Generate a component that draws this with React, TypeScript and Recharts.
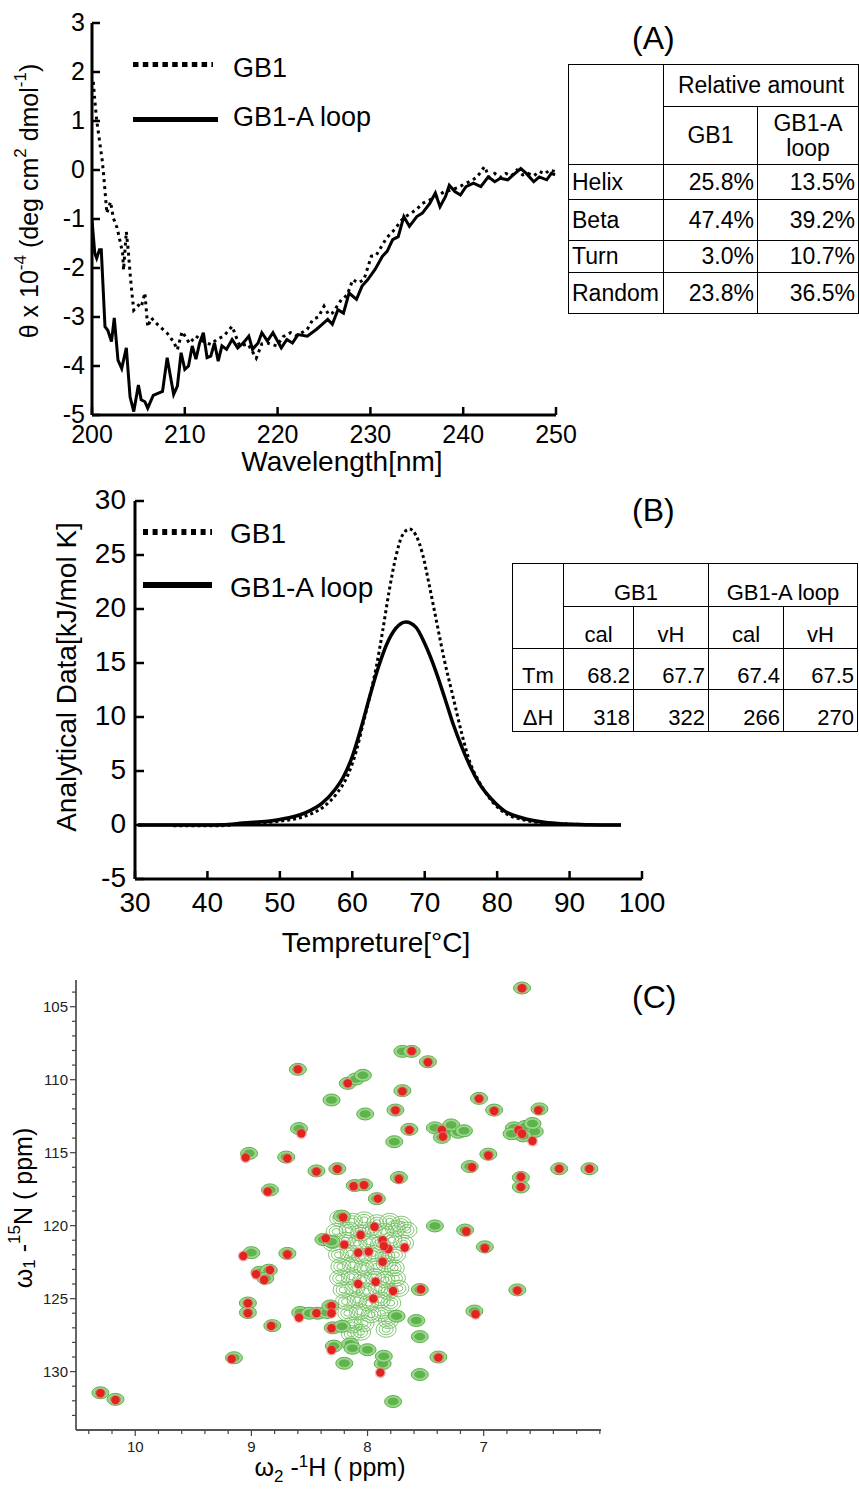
import React from 'react';
import { LineChart, Line, XAxis, YAxis, Legend, ScatterChart, Scatter, ReferenceLine, Label } from 'recharts';

const FONT = '"Liberation Sans", Arial, Helvetica, sans-serif';

// ---------- (A) CD spectra ----------
const cdGb1Nm = [200.14, 200.3, 200.5, 200.8, 201.1, 201.3, 201.6, 202.0, 202.3, 202.7, 203.0, 203.3, 203.4, 203.7, 203.9, 204.1, 204.3, 204.5, 205.0, 205.3, 205.7, 206.0, 206.4, 207.1, 208.1, 208.8, 209.2, 209.7, 210.1, 210.5, 211.2, 212.0, 212.8, 213.5, 214.2, 215.1, 215.9, 216.8, 217.7, 218.3, 218.9, 219.9, 220.6, 221.4, 222.0, 222.6, 223.2, 223.8, 224.4, 225.0, 225.5, 225.9, 226.9, 227.5, 228.1, 228.7, 229.3, 230.1, 230.6, 231.1, 231.7, 232.2, 232.7, 233.2, 233.8, 234.4, 235.0, 235.6, 236.3, 237.1, 237.9, 238.7, 239.5, 240.3, 240.9, 241.5, 242.3, 242.8, 243.4, 244.0, 244.6, 245.2, 245.8, 246.4, 247.0, 247.6, 248.2, 248.8, 249.3, 249.9];
const cdGb1Theta = [1.8, 1.43, 1.02, 0.61, 0.2, -0.2, -0.88, -0.65, -0.98, -1.18, -1.43, -1.7, -2.04, -1.26, -1.63, -2.1, -2.51, -2.86, -2.76, -2.8, -2.51, -3.2, -3.02, -3.16, -3.33, -3.51, -3.67, -3.3, -3.41, -3.54, -3.39, -3.5, -3.56, -3.45, -3.39, -3.19, -3.59, -3.55, -3.84, -3.55, -3.53, -3.59, -3.4, -3.32, -3.38, -3.32, -3.25, -3.05, -3.0, -2.78, -2.95, -2.92, -2.64, -2.55, -2.24, -2.3, -2.24, -1.76, -1.75, -1.59, -1.4, -1.29, -1.2, -1.05, -0.95, -0.88, -0.8, -0.68, -0.62, -0.54, -0.45, -0.41, -0.35, -0.27, -0.22, -0.14, 0.07, -0.15, -0.07, -0.15, -0.07, -0.12, 0.0, -0.1, -0.07, -0.12, -0.03, -0.08, 0.0, -0.03];
const cdLoopNm = [200.0, 200.3, 200.5, 200.8, 201.0, 201.4, 201.7, 202.1, 202.4, 202.8, 203.2, 203.7, 204.1, 204.5, 205.0, 205.3, 205.7, 206.0, 206.6, 207.1, 207.6, 208.1, 208.8, 209.2, 209.6, 210.0, 210.4, 210.8, 211.2, 211.6, 212.0, 212.4, 212.8, 213.2, 213.6, 214.0, 214.5, 215.1, 215.7, 216.3, 216.9, 217.3, 217.9, 218.3, 218.9, 219.5, 220.4, 221.0, 221.6, 222.2, 223.2, 224.2, 224.8, 225.4, 225.9, 226.5, 227.1, 227.7, 228.5, 229.1, 229.7, 230.5, 231.3, 231.8, 232.4, 233.0, 233.6, 234.2, 235.0, 235.6, 236.4, 237.0, 237.5, 238.1, 238.5, 239.1, 239.7, 240.3, 241.1, 241.9, 242.7, 243.4, 244.0, 244.8, 245.4, 246.2, 246.8, 247.6, 248.2, 249.0, 249.5, 249.9];
const cdLoopTheta = [-1.02, -1.7, -1.8, -1.63, -1.63, -3.2, -3.27, -3.5, -3.02, -3.88, -4.05, -3.63, -4.63, -4.93, -4.39, -4.69, -4.73, -4.86, -4.6, -4.56, -4.52, -3.83, -4.58, -4.41, -3.73, -4.07, -4.0, -3.59, -3.86, -3.53, -3.32, -3.83, -3.8, -3.53, -3.9, -3.59, -3.66, -3.46, -3.63, -3.53, -3.39, -3.66, -3.53, -3.32, -3.49, -3.32, -3.63, -3.46, -3.53, -3.36, -3.39, -3.25, -3.15, -3.05, -3.15, -2.85, -2.92, -2.51, -2.64, -2.37, -2.24, -2.03, -1.76, -1.66, -1.42, -1.36, -0.95, -1.15, -0.95, -0.88, -0.68, -0.47, -0.75, -0.54, -0.31, -0.44, -0.51, -0.34, -0.27, -0.34, -0.14, -0.24, -0.17, -0.2, -0.1, 0.03, -0.07, -0.24, -0.14, -0.2, -0.07, -0.1];
const cdXTicks = [200, 210, 220, 230, 240, 250];
const cdYTicks = [-5, -4, -3, -2, -1, 0, 1, 2, 3];

const ssRows = ['Helix', 'Beta', 'Turn', 'Random'];
const ssGb1 = ['25.8%', '47.4%', '3.0%', '23.8%'];
const ssLoop = ['13.5%', '39.2%', '10.7%', '36.5%'];

// ---------- (B) DSC ----------
const dscGb1T = [35.3, 38, 41.9, 45, 49.8, 53.4, 56.1, 57.9, 59.4, 60.6, 61.5, 62.4, 63.3, 64.2, 65.1, 66.0, 66.9, 67.9, 68.8, 69.7, 70.6, 71.5, 72.7, 73.9, 75.1, 76.3, 77.5, 79.3, 81.1, 83.5, 86.5, 89.6, 92.3];
const dscGb1Cp = [-0.06, -0.08, -0.06, 0.1, 0.34, 0.8, 1.72, 2.95, 4.64, 6.95, 9.4, 11.87, 14.6, 18.0, 21.7, 24.8, 26.8, 27.4, 26.8, 25.1, 22.3, 19.3, 15.3, 11.9, 8.5, 5.7, 4.03, 2.18, 1.1, 0.5, 0.18, 0.09, 0.03];
const dscLoopT = [30.4, 35, 40, 42, 44.9, 49.8, 53.4, 55.8, 57.6, 58.8, 60.0, 61.2, 62.4, 63.6, 64.8, 66.0, 67.4, 68.8, 70.0, 71.5, 72.7, 73.9, 75.1, 76.3, 77.5, 79.3, 81.1, 83.5, 86.5, 89.6, 92.6, 97.1];
const dscLoopCp = [0, 0, 0, 0.02, 0.18, 0.49, 1.1, 2.0, 3.26, 4.49, 6.34, 8.95, 11.87, 14.6, 16.8, 18.2, 18.8, 18.3, 16.8, 14.3, 11.9, 9.4, 7.26, 5.4, 3.88, 2.34, 1.26, 0.65, 0.25, 0.09, 0.03, 0];
const dscBaseline = [30.4, 97.1];
const dscXTicks = [30, 40, 50, 60, 70, 80, 90, 100];
const dscYTicks = [-5, 0, 5, 10, 15, 20, 25, 30];

const dscParams = ['Tm', 'ΔH'];
const dscGb1Cal = ['68.2', '318'];
const dscGb1VH = ['67.7', '322'];
const dscLoopCal = ['67.4', '266'];
const dscLoopVH = ['67.5', '270'];

// ---------- (C) 1H-15N HSQC ----------
const hsqcXTicks = [6.0, 6.2, 6.4, 6.6, 6.8, 7.0, 7.2, 7.4, 7.6, 7.8, 8.0, 8.2, 8.4, 8.6, 8.8, 9.0, 9.2, 9.4, 9.6, 9.8, 10.0, 10.2, 10.4];
const hsqcXLabels = [7, 8, 9, 10];
const hsqcYTicks = [104, 105, 106, 107, 108, 109, 110, 111, 112, 113, 114, 115, 116, 117, 118, 119, 120, 121, 122, 123, 124, 125, 126, 127, 128, 129, 130, 131, 132, 133];
const hsqcYLabels = [105, 110, 115, 120, 125, 130];
// overlapping contours of the crowded centre
const hsqcCluster: [number, number][] = [
  [8.24, 119.5], [8.13, 119.7], [8.03, 119.6], [7.92, 119.8], [7.81, 119.7], [7.71, 119.9],
  [8.27, 120.4], [8.16, 120.3], [8.06, 120.5], [7.96, 120.3], [7.86, 120.4], [7.76, 120.2], [7.66, 120.3],
  [8.3, 121.2], [8.19, 121.0], [8.09, 121.2], [7.99, 121.1], [7.89, 121.3], [7.79, 121.0], [7.69, 121.2],
  [8.25, 122.0], [8.15, 121.9], [8.05, 122.1], [7.95, 121.9], [7.85, 122.1], [7.76, 122.0],
  [8.23, 122.8], [8.13, 122.7], [8.03, 122.9], [7.93, 122.8], [7.84, 122.6], [7.77, 122.9],
  [8.24, 123.6], [8.14, 123.5], [8.04, 123.7], [7.94, 123.5], [7.85, 123.7], [7.76, 123.6],
  [8.21, 124.4], [8.11, 124.3], [8.01, 124.5], [7.91, 124.3], [7.82, 124.5], [7.73, 124.3],
  [8.19, 125.2], [8.09, 125.1], [7.99, 125.3], [7.89, 125.1], [7.8, 125.3],
  [8.17, 126.0], [8.07, 125.9], [7.97, 126.1], [7.88, 126.0], [7.82, 126.5],
  [8.13, 126.8], [8.03, 126.7], [7.84, 127.1], [8.14, 127.4], [8.06, 127.3],
];
const hsqcGreen: [number, number][] = [
  [6.67, 103.72], [7.7, 108.06], [7.62, 108.06], [7.48, 108.77], [8.6, 109.29], [8.17, 110.25], [8.1, 109.95], [8.04, 109.7],
  [7.7, 110.75], [8.31, 111.39], [7.04, 111.28], [8.02, 112.35], [7.76, 112.08], [6.91, 112.08], [6.52, 112.0], [7.64, 113.4],
  [7.42, 113.3], [7.32, 113.5], [7.22, 113.6], [7.36, 113.95], [7.28, 113.1], [7.17, 113.5],
  [6.74, 113.3], [6.64, 113.2], [6.56, 113.55], [6.66, 113.85], [6.76, 113.7], [6.58, 113.0],
  [7.77, 114.25], [8.59, 113.35], [9.02, 115.05], [8.7, 115.3], [6.96, 115.1], [8.44, 116.25], [8.26, 116.1], [7.12, 115.95],
  [6.35, 116.1], [6.09, 116.1], [7.73, 116.7], [6.68, 116.7], [6.68, 117.35], [8.11, 117.25], [8.03, 117.2], [8.84, 117.55],
  [7.92, 118.15], [8.22, 119.35], [7.42, 120.02], [7.16, 120.3], [8.38, 120.95], [8.31, 121.1], [6.99, 121.45], [9.0, 121.85],
  [8.69, 121.9], [8.93, 123.2], [8.85, 123.05], [8.88, 123.6], [7.55, 124.38], [6.71, 124.4], [9.03, 125.3], [9.03, 125.95],
  [8.58, 125.95], [8.5, 126.0], [8.43, 126.0], [8.35, 125.95], [7.08, 125.85], [8.82, 126.85], [8.3, 127.0], [8.22, 126.9],
  [7.58, 126.5], [7.75, 126.2], [8.29, 128.25], [8.15, 128.1], [8.13, 128.4], [8.0, 128.5], [9.15, 129.05], [7.39, 129.0],
  [7.87, 129.45], [7.86, 128.95], [8.2, 129.43], [10.3, 131.45], [10.17, 131.9], [7.78, 132.05], [7.55, 127.6], [7.55, 130.2], [8.32, 125.5],
];
const hsqcRed: [number, number][] = [
  [6.67, 103.74], [7.62, 108.04], [7.48, 108.8], [8.6, 109.29], [8.17, 110.25], [7.7, 110.8], [7.04, 111.3], [7.76, 112.1],
  [6.91, 112.15], [6.53, 112.1], [7.64, 113.45], [7.36, 113.45], [7.35, 113.9], [6.7, 113.45], [6.67, 113.7], [6.58, 114.2],
  [8.57, 113.68], [9.05, 115.34], [8.69, 115.39], [6.96, 115.2], [8.44, 116.3], [8.26, 116.12], [7.1, 116.0], [6.35, 116.1],
  [6.09, 116.1], [7.73, 116.8], [6.68, 116.65], [6.68, 117.35], [8.12, 117.3], [8.03, 117.22], [8.86, 117.67], [7.91, 118.15],
  [8.21, 119.43], [7.94, 120.07], [7.15, 120.4], [8.36, 120.87], [8.06, 120.64], [8.2, 121.3], [7.87, 121.0], [7.68, 121.5],
  [7.82, 121.6], [7.86, 121.4], [6.99, 121.55], [8.08, 121.85], [7.99, 121.78], [9.07, 122.08], [8.69, 121.98], [7.87, 122.47],
  [8.96, 123.33], [8.84, 123.04], [8.89, 123.72], [8.08, 124.0], [7.93, 123.84], [7.78, 124.48], [7.54, 124.36], [6.71, 124.45],
  [7.95, 125.0], [9.03, 125.32], [9.03, 126.0], [8.31, 125.5], [8.44, 126.0], [8.31, 126.0], [8.59, 126.3], [7.07, 126.07],
  [8.83, 126.87], [8.31, 127.03], [8.31, 128.52], [9.17, 129.13], [7.39, 129.04], [7.89, 130.07], [10.3, 131.48], [10.17, 131.94],
];

const toXY = (xs: number[], ys: number[]) => xs.map((x, i) => ({ x, y: ys[i] }));
const pairs = (list: [number, number][]) => list.map(([x, y]) => ({ x, y }));

// ---------- tick renderers ----------
const cdBottomTick = ({ x, y, payload }: any) => (
  <g>
    <line x1={x} y1={y} x2={x} y2={y - 8} stroke="#000" strokeWidth={2.5} />
    <text x={x} y={y + 28} textAnchor="middle" fontSize={25} fontFamily={FONT} fill="#000">{payload.value}</text>
  </g>
);
const cdLeftTick = ({ x, y, payload }: any) => (
  <g>
    <line x1={x} y1={y} x2={x + 8} y2={y} stroke="#000" strokeWidth={2.5} />
    <text x={x - 7} y={y + 8} textAnchor="end" fontSize={25} fontFamily={FONT} fill="#000">{payload.value}</text>
  </g>
);
const cdTopTick = ({ x, y }: any) => <line x1={x} y1={y} x2={x} y2={y + 8} stroke="#000" strokeWidth={2.5} />;
const cdRightTick = ({ x, y }: any) => <line x1={x} y1={y} x2={x - 8} y2={y} stroke="#000" strokeWidth={2.5} />;

const dscBottomTick = ({ x, y, payload }: any) => (
  <g>
    <line x1={x} y1={y} x2={x} y2={y - 8} stroke="#000" strokeWidth={2.5} />
    <text x={x} y={y + 33} textAnchor="middle" fontSize={28} fontFamily={FONT} fill="#000">{payload.value}</text>
  </g>
);
const dscLeftTick = ({ x, y, payload }: any) => (
  <g>
    <line x1={x} y1={y} x2={x + 9} y2={y} stroke="#000" strokeWidth={2.5} />
    <text x={x - 9} y={y + 8} textAnchor="end" fontSize={28} fontFamily={FONT} fill="#000">{payload.value}</text>
  </g>
);

const hsqcBottomTick = ({ x, y, payload }: any) => {
  const major = hsqcXLabels.includes(payload.value);
  return (
    <g>
      <line x1={x} y1={y} x2={x} y2={y + (major ? 6 : 4)} stroke="#444" strokeWidth={1.2} />
      {major && (
        <text x={x} y={y + 22} textAnchor="middle" fontSize={15} fontFamily={FONT} fill="#222">{payload.value}</text>
      )}
    </g>
  );
};
const hsqcLeftTick = ({ x, y, payload }: any) => {
  const major = hsqcYLabels.includes(payload.value);
  return (
    <g>
      <line x1={x} y1={y} x2={x - (major ? 6 : 4)} y2={y} stroke="#444" strokeWidth={1.2} />
      {major && (
        <text x={x - 8} y={y + 5} textAnchor="end" fontSize={15} fontFamily={FONT} fill="#222">{payload.value}</text>
      )}
    </g>
  );
};

// ---------- peak shapes ----------
const meshShape = ({ cx, cy }: any) => (
  <g fill="none" stroke="#72c061" strokeWidth={0.9}>
    <ellipse cx={cx} cy={cy} rx={10} ry={8} />
    <ellipse cx={cx} cy={cy} rx={7} ry={5.5} />
    <ellipse cx={cx} cy={cy} rx={4} ry={3} />
  </g>
);
const greenShape = ({ cx, cy }: any) => (
  <g>
    <ellipse cx={cx} cy={cy} rx={8.5} ry={6} fill="#9ad68b" stroke="#5bb04a" strokeWidth={1} />
    <ellipse cx={cx} cy={cy} rx={5.5} ry={3.8} fill="#5fb34d" />
  </g>
);
const redShape = ({ cx, cy }: any) => (
  <g>
    <circle cx={cx} cy={cy} r={5.5} fill="#f08080" opacity={0.6} />
    <circle cx={cx} cy={cy} r={4.2} fill="#e3231f" />
  </g>
);

// ---------- legends ----------
const CdLegend = () => (
  <svg width={270} height={100} style={{ overflow: 'visible' }}>
    <line x1={0} y1={24.5} x2={80} y2={24.5} stroke="#000" strokeWidth={5} strokeDasharray="5.5 4.3" />
    <line x1={0} y1={79.5} x2={85} y2={79.5} stroke="#000" strokeWidth={5} />
    <text x={100} y={37} fontSize={27} fontFamily={FONT}>GB1</text>
    <text x={100} y={86} fontSize={27} fontFamily={FONT}>GB1-A loop</text>
  </svg>
);
const DscLegend = () => (
  <svg width={260} height={100} style={{ overflow: 'visible' }}>
    <line x1={0} y1={22} x2={69} y2={22} stroke="#000" strokeWidth={6} strokeDasharray="5 4.6" />
    <line x1={0} y1={75} x2={69} y2={75} stroke="#000" strokeWidth={6} />
    <text x={87} y={33} fontSize={28} fontFamily={FONT}>GB1</text>
    <text x={87} y={87} fontSize={28} fontFamily={FONT}>GB1-A loop</text>
  </svg>
);

const cell: React.CSSProperties = { border: '1.5px solid #000', padding: '0 3px', overflow: 'hidden', whiteSpace: 'nowrap' };
const SS_ROW_H = [35, 41, 32, 41];
const DSC_ROW_H = [43, 42, 41, 42];

const panelLabel = (top: number): React.CSSProperties => ({
  position: 'absolute', left: 632, top, fontSize: 32, fontFamily: FONT, lineHeight: '32px',
});

export default function App() {
  const cdGb1 = toXY(cdGb1Nm, cdGb1Theta);
  const cdLoop = toXY(cdLoopNm, cdLoopTheta);
  const dscGb1 = toXY(dscGb1T, dscGb1Cp);
  const dscLoop = toXY(dscLoopT, dscLoopCp);

  return (
    <div style={{ position: 'absolute', left: 0, top: 0, width: 859, height: 1490, background: '#fff', fontFamily: FONT, color: '#000' }}>
      {/* (A) */}
      <div style={{ position: 'absolute', left: 0, top: 0 }}>
        <LineChart width={590} height={480} margin={{ top: 23, right: 34, bottom: 0, left: 0 }}>
          <XAxis xAxisId="b" type="number" dataKey="x" domain={[200, 250]} ticks={cdXTicks} interval={0} allowDataOverflow
            height={65} tickSize={0} tickMargin={0} tickLine={false} axisLine={{ stroke: '#000', strokeWidth: 3 }} tick={cdBottomTick}>
            <Label content={() => <text x={342} y={471} textAnchor="middle" fontSize={28} fontFamily={FONT}>Wavelength[nm]</text>} />
          </XAxis>
          <XAxis xAxisId="t" orientation="top" type="number" dataKey="x" domain={[200, 250]} ticks={cdXTicks} interval={0} allowDataOverflow
            height={0} tickSize={0} tickMargin={0} tickLine={false} axisLine={{ stroke: '#000', strokeWidth: 3 }} tick={cdTopTick} />
          <YAxis yAxisId="l" type="number" domain={[-5, 3]} ticks={cdYTicks} interval={0} allowDataOverflow
            width={92} tickSize={0} tickMargin={0} tickLine={false} axisLine={{ stroke: '#000', strokeWidth: 3 }} tick={cdLeftTick}>
            <Label content={() => (
              <text x={29} y={201} transform="rotate(-90 29 201)" textAnchor="middle" dominantBaseline="central" fontSize={25} fontFamily={FONT}>
                <tspan>θ x 10</tspan><tspan dy={-9} fontSize={17}>-4</tspan><tspan dy={9}> (deg cm</tspan>
                <tspan dy={-9} fontSize={17}>2</tspan><tspan dy={9}> dmol</tspan><tspan dy={-9} fontSize={17}>-1</tspan><tspan dy={9}>)</tspan>
              </text>
            )} />
          </YAxis>
          <YAxis yAxisId="r" orientation="right" type="number" domain={[-5, 3]} ticks={cdYTicks} interval={0} allowDataOverflow
            width={0} tickSize={0} tickMargin={0} tickLine={false} axisLine={{ stroke: '#000', strokeWidth: 3 }} tick={cdRightTick} />
          <Line xAxisId="t" yAxisId="r" data={cdGb1} dataKey="y" type="linear" stroke="#000" strokeWidth={3} strokeDasharray="3 4"
            dot={false} activeDot={false} isAnimationActive={false} />
          <Line xAxisId="b" yAxisId="l" data={cdLoop} dataKey="y" type="linear" stroke="#000" strokeWidth={3}
            dot={false} activeDot={false} isAnimationActive={false} />
          <Legend layout="vertical" align="center" verticalAlign="middle" content={<CdLegend />}
            wrapperStyle={{ left: 133, top: 40, width: 270, height: 100 }} />
        </LineChart>
      </div>
      <div style={panelLabel(22)}>(A)</div>
      <table style={{ position: 'absolute', left: 568, top: 64, width: 290, borderCollapse: 'collapse', tableLayout: 'fixed', fontSize: 23, fontFamily: FONT }}>
        <colgroup><col style={{ width: 95 }} /><col style={{ width: 94 }} /><col style={{ width: 101 }} /></colgroup>
        <tbody>
          <tr style={{ height: 42 }}>
            <td rowSpan={2} style={cell} />
            <td colSpan={2} style={{ ...cell, textAlign: 'center' }}>Relative amount</td>
          </tr>
          <tr style={{ height: 58 }}>
            <td style={{ ...cell, textAlign: 'center' }}>GB1</td>
            <td style={{ ...cell, textAlign: 'center', lineHeight: '25px' }}>GB1-A<br />loop</td>
          </tr>
          {ssRows.map((r, i) => (
            <tr key={r} style={{ height: SS_ROW_H[i] }}>
              <td style={{ ...cell, textAlign: 'left' }}>{r}</td>
              <td style={{ ...cell, textAlign: 'right' }}>{ssGb1[i]}</td>
              <td style={{ ...cell, textAlign: 'right' }}>{ssLoop[i]}</td>
            </tr>
          ))}
        </tbody>
      </table>

      {/* (B) */}
      <div style={{ position: 'absolute', left: 0, top: 470 }}>
        <LineChart width={680} height={490} margin={{ top: 31, right: 38, bottom: 0, left: 0 }}>
          <XAxis type="number" dataKey="x" domain={[30, 100]} ticks={dscXTicks} interval={0} allowDataOverflow
            height={81} tickSize={0} tickMargin={0} tickLine={false} axisLine={{ stroke: '#000', strokeWidth: 3 }} tick={dscBottomTick}>
            <Label content={() => <text x={376} y={482} textAnchor="middle" fontSize={28} fontFamily={FONT}>Tempreture[°C]</text>} />
          </XAxis>
          <YAxis type="number" domain={[-5, 30]} ticks={dscYTicks} interval={0} allowDataOverflow
            width={135} tickSize={0} tickMargin={0} tickLine={false} axisLine={{ stroke: '#000', strokeWidth: 3 }} tick={dscLeftTick}>
            <Label content={() => (
              <text x={66} y={207} transform="rotate(-90 66 207)" textAnchor="middle" dominantBaseline="central" fontSize={28} fontFamily={FONT}>
                Analytical Data[kJ/mol K]
              </text>
            )} />
          </YAxis>
          <ReferenceLine segment={[{ x: dscBaseline[0], y: 0 }, { x: dscBaseline[1], y: 0 }]} stroke="#000" strokeWidth={3} />
          <Line data={dscGb1} dataKey="y" type="monotone" stroke="#000" strokeWidth={3} strokeDasharray="3 3"
            dot={false} activeDot={false} isAnimationActive={false} />
          <Line data={dscLoop} dataKey="y" type="monotone" stroke="#000" strokeWidth={3.5}
            dot={false} activeDot={false} isAnimationActive={false} />
          <Legend layout="vertical" align="center" verticalAlign="middle" content={<DscLegend />}
            wrapperStyle={{ left: 143, top: 40, width: 260, height: 100 }} />
        </LineChart>
      </div>
      <div style={panelLabel(494)}>(B)</div>
      <table style={{ position: 'absolute', left: 512, top: 563, width: 345, borderCollapse: 'collapse', tableLayout: 'fixed', fontSize: 22, fontFamily: FONT }}>
        <colgroup>
          <col style={{ width: 51 }} /><col style={{ width: 70 }} /><col style={{ width: 75 }} /><col style={{ width: 75 }} /><col style={{ width: 74 }} />
        </colgroup>
        <tbody>
          <tr style={{ height: DSC_ROW_H[0] }}>
            <td rowSpan={2} style={cell} />
            <td colSpan={2} style={{ ...cell, textAlign: 'center', verticalAlign: 'bottom' }}>GB1</td>
            <td colSpan={2} style={{ ...cell, textAlign: 'center', verticalAlign: 'bottom' }}>GB1-A loop</td>
          </tr>
          <tr style={{ height: DSC_ROW_H[1] }}>
            {['cal', 'vH', 'cal', 'vH'].map((h, i) => (
              <td key={i} style={{ ...cell, textAlign: 'center', verticalAlign: 'bottom' }}>{h}</td>
            ))}
          </tr>
          {dscParams.map((p, i) => (
            <tr key={p} style={{ height: DSC_ROW_H[i + 2] }}>
              <td style={{ ...cell, textAlign: 'center', verticalAlign: 'bottom' }}>{p}</td>
              <td style={{ ...cell, textAlign: 'right', verticalAlign: 'bottom' }}>{dscGb1Cal[i]}</td>
              <td style={{ ...cell, textAlign: 'right', verticalAlign: 'bottom' }}>{dscGb1VH[i]}</td>
              <td style={{ ...cell, textAlign: 'right', verticalAlign: 'bottom' }}>{dscLoopCal[i]}</td>
              <td style={{ ...cell, textAlign: 'right', verticalAlign: 'bottom' }}>{dscLoopVH[i]}</td>
            </tr>
          ))}
        </tbody>
      </table>

      {/* (C) */}
      <div style={{ position: 'absolute', left: 0, top: 970 }}>
        <ScatterChart width={620} height={520} margin={{ top: 10, right: 19, bottom: 0, left: 0 }}>
          <XAxis xAxisId="b" type="number" dataKey="x" domain={[5.99, 10.51]} reversed ticks={hsqcXTicks} interval={0} allowDataOverflow
            height={60} tickSize={0} tickMargin={0} tickLine={false} axisLine={{ stroke: '#555', strokeWidth: 1.8 }} tick={hsqcBottomTick}>
            <Label content={() => (
              <text x={330} y={506} textAnchor="middle" fontSize={25} fontFamily={FONT}>
                <tspan>ω</tspan><tspan dy={6} fontSize={17}>2</tspan><tspan dy={-6}> -</tspan>
                <tspan dy={-9} fontSize={17}>1</tspan><tspan dy={9}>H ( ppm)</tspan>
              </text>
            )} />
          </XAxis>
          <XAxis xAxisId="t" orientation="top" type="number" dataKey="x" domain={[5.99, 10.51]} reversed allowDataOverflow
            height={0} tick={false} tickLine={false} axisLine={{ stroke: '#555', strokeWidth: 1.8 }} />
          <YAxis yAxisId="l" type="number" dataKey="y" domain={[103.17, 134]} reversed ticks={hsqcYTicks} interval={0} allowDataOverflow
            width={76} tickSize={0} tickMargin={0} tickLine={false} axisLine={{ stroke: '#555', strokeWidth: 1.8 }} tick={hsqcLeftTick}>
            <Label content={() => (
              <text x={23} y={238} transform="rotate(-90 23 238)" textAnchor="middle" dominantBaseline="central" fontSize={25} fontFamily={FONT}>
                <tspan>ω</tspan><tspan dy={6} fontSize={17}>1</tspan><tspan dy={-6}> -</tspan>
                <tspan dy={-9} fontSize={17}>15</tspan><tspan dy={9}>N ( ppm)</tspan>
              </text>
            )} />
          </YAxis>
          <YAxis yAxisId="r" orientation="right" type="number" dataKey="y" domain={[103.17, 134]} reversed allowDataOverflow
            width={0} tick={false} tickLine={false} axisLine={{ stroke: '#555', strokeWidth: 1.8 }} />
          <Scatter xAxisId="t" yAxisId="r" data={pairs(hsqcCluster)} shape={meshShape} isAnimationActive={false} />
          <Scatter xAxisId="t" yAxisId="r" data={pairs(hsqcGreen)} shape={greenShape} isAnimationActive={false} />
          <Scatter xAxisId="b" yAxisId="l" data={pairs(hsqcRed)} shape={redShape} isAnimationActive={false} />
        </ScatterChart>
      </div>
      <div style={panelLabel(981)}>(C)</div>
    </div>
  );
}
